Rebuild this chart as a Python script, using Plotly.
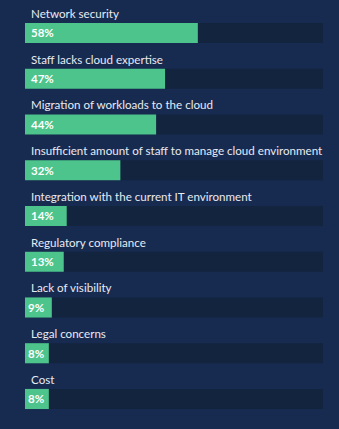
import plotly.graph_objects as go

categories = [
    "Network security",
    "Staff lacks cloud expertise",
    "Migration of workloads to the cloud",
    "Insufficient amount of staff to manage cloud environment",
    "Integration with the current IT environment",
    "Regulatory compliance",
    "Lack of visibility",
    "Legal concerns",
    "Cost",
]
values = [58, 47, 44, 32, 14, 13, 9, 8, 8]
full_scale = [100] * len(values)

BG = "#172a50"
TRACK = "#13243f"
GREEN = "#4cc48c"
TEXT = "#e8ebf2"
FONT = "Lato"

positions = list(range(len(categories)))
bar_width = 0.44

fig = go.Figure()
fig.add_trace(go.Bar(
    x=full_scale, y=positions, orientation="h", width=bar_width,
    marker=dict(color=TRACK, line=dict(width=0)), hoverinfo="skip",
))
fig.add_trace(go.Bar(
    x=values, y=positions, orientation="h", width=bar_width,
    marker=dict(color=GREEN, line=dict(width=0)),
))

annotations = []
for pos, cat, val in zip(positions, categories, values):
    annotations.append(dict(
        x=0, y=pos - bar_width / 2, xref="x", yref="y",
        text=cat, showarrow=False, xanchor="left", yanchor="bottom",
        xshift=4, yshift=1,
        font=dict(family=FONT, size=11.6, color=TEXT),
    ))
    annotations.append(dict(
        x=0, y=pos, xref="x", yref="y",
        text=f"<b>{val}%</b>", showarrow=False, xanchor="left", yanchor="middle",
        xshift=4 if val >= 10 else 1,
        font=dict(family=FONT, size=11.5, color="#ffffff"),
    ))

fig.update_layout(
    width=339, height=429,
    margin=dict(l=25, r=16, t=0, b=0),
    paper_bgcolor=BG, plot_bgcolor=BG,
    barmode="overlay", showlegend=False,
    annotations=annotations,
    xaxis=dict(range=[0, 100], visible=False, fixedrange=True),
    yaxis=dict(range=[8.656, -0.721], visible=False, fixedrange=True),
)

fig.write_html("out.html", config={"displayModeBar": False})
